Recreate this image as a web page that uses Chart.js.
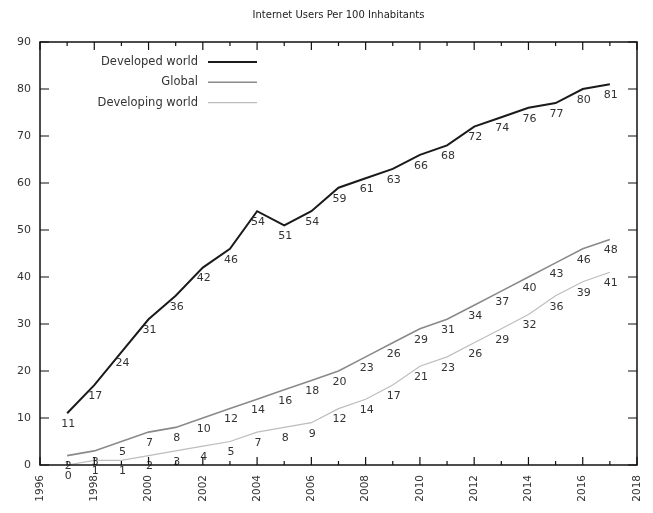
<!DOCTYPE html>
<html>
<head>
<meta charset="utf-8">
<script src="https://cdn.jsdelivr.net/npm/chart.js@4/dist/chart.umd.min.js"></script>
<style>
html,body{margin:0;padding:0;background:#fff;}
#wrap{width:653px;height:513px;position:relative;}
</style>
</head>
<body>
<div id="wrap"><canvas id="c" width="653" height="513"></canvas></div>
<script>
const title = "Internet Users Per 100 Inhabitants";
const years = [1997,1998,1999,2000,2001,2002,2003,2004,2005,2006,2007,2008,2009,2010,2011,2012,2013,2014,2015,2016,2017];
const developed = [11,17,24,31,36,42,46,54,51,54,59,61,63,66,68,72,74,76,77,80,81];
const global = [2,3,5,7,8,10,12,14,16,18,20,23,26,29,31,34,37,40,43,46,48];
const developing = [0,1,1,2,3,4,5,7,8,9,12,14,17,21,23,26,29,32,36,39,41];
const seriesNames = ["Developed world","Global","Developing world"];
const xMin = 1996, xMax = 2018, yMin = 0, yMax = 90;

const FONT = "'DejaVu Sans', Verdana, sans-serif";
Chart.defaults.font.family = FONT;

const toPts = arr => arr.map((v,i)=>({x:years[i], y:v}));

const framePlugin = {
  id:'frame',
  afterDatasetsDraw(chart){
    const ctx = chart.ctx, a = chart.chartArea;
    const xs = chart.scales.x, ys = chart.scales.y;
    ctx.save();
    // data labels
    ctx.font = "11px " + FONT;
    ctx.fillStyle = '#333';
    ctx.textAlign = 'center';
    ctx.textBaseline = 'middle';
    chart.data.datasets.forEach((ds,di)=>{
      const meta = chart.getDatasetMeta(di);
      meta.data.forEach((pt,i)=>{
        ctx.fillText(String(ds.data[i].y), pt.x + 1, pt.y + 11);
      });
    });
    // border
    ctx.strokeStyle = '#111';
    ctx.lineWidth = 1.5;
    ctx.strokeRect(a.left, a.top, a.right-a.left, a.bottom-a.top);
    // x ticks
    ctx.lineWidth = 1.2;
    for(let yr = xMin; yr <= xMax; yr++){
      const px = xs.getPixelForValue(yr);
      const len = (yr % 2 === 0) ? 8 : 4;
      ctx.beginPath();
      ctx.moveTo(px, a.bottom); ctx.lineTo(px, a.bottom - len);
      ctx.moveTo(px, a.top); ctx.lineTo(px, a.top + len);
      ctx.stroke();
    }
    for(let v = yMin; v <= yMax; v += 10){
      const py = ys.getPixelForValue(v);
      ctx.beginPath();
      ctx.moveTo(a.left, py); ctx.lineTo(a.left + 9, py);
      ctx.moveTo(a.right, py); ctx.lineTo(a.right - 9, py);
      ctx.stroke();
    }
    // legend
    ctx.font = "11.5px " + FONT;
    ctx.textAlign = 'right';
    chart.data.datasets.forEach((ds,di)=>{
      const y = 62 + di*20.3;
      ctx.fillStyle = '#333';
      ctx.fillText(ds.label, 198, y);
      ctx.strokeStyle = ds.borderColor;
      ctx.lineWidth = ds.borderWidth;
      ctx.beginPath(); ctx.moveTo(208, y); ctx.lineTo(257, y); ctx.stroke();
    });
    // title
    ctx.font = "10px " + FONT;
    ctx.textAlign = 'center';
    ctx.fillStyle = '#222';
    ctx.fillText(title, (a.left + a.right)/2, 15);
    ctx.restore();
  }
};

new Chart(document.getElementById('c'), {
  type:'line',
  data:{
    datasets:[
      {label:seriesNames[0], data:toPts(developed), borderColor:'#1a1a1a', borderWidth:2, pointRadius:0, tension:0, fill:false},
      {label:seriesNames[1], data:toPts(global), borderColor:'#8a8a8a', borderWidth:1.6, pointRadius:0, tension:0, fill:false},
      {label:seriesNames[2], data:toPts(developing), borderColor:'#bdbdbd', borderWidth:1.2, pointRadius:0, tension:0, fill:false}
    ]
  },
  options:{
    responsive:false,
    animation:false,
    layout:{padding:{top:42, right:16, left:0, bottom:0}},
    plugins:{legend:{display:false}, title:{display:false}, tooltip:{enabled:false}},
    scales:{
      x:{type:'linear', min:xMin, max:xMax,
         grid:{display:false, drawTicks:false}, border:{display:false},
         ticks:{stepSize:2, minRotation:90, maxRotation:90, padding:10, color:'#333', font:{size:10.5}, callback:v=>String(v)},
         afterFit(s){ s.height = 48; s.paddingLeft = 0; s.paddingRight = 0; }},
      y:{min:yMin, max:yMax,
         grid:{display:false, drawTicks:false}, border:{display:false},
         ticks:{stepSize:10, padding:9, color:'#333', font:{size:11}},
         afterFit(s){ s.width = 40; s.paddingTop = 0; s.paddingBottom = 0; }}
    }
  },
  plugins:[framePlugin]
});
</script>
</body>
</html>
